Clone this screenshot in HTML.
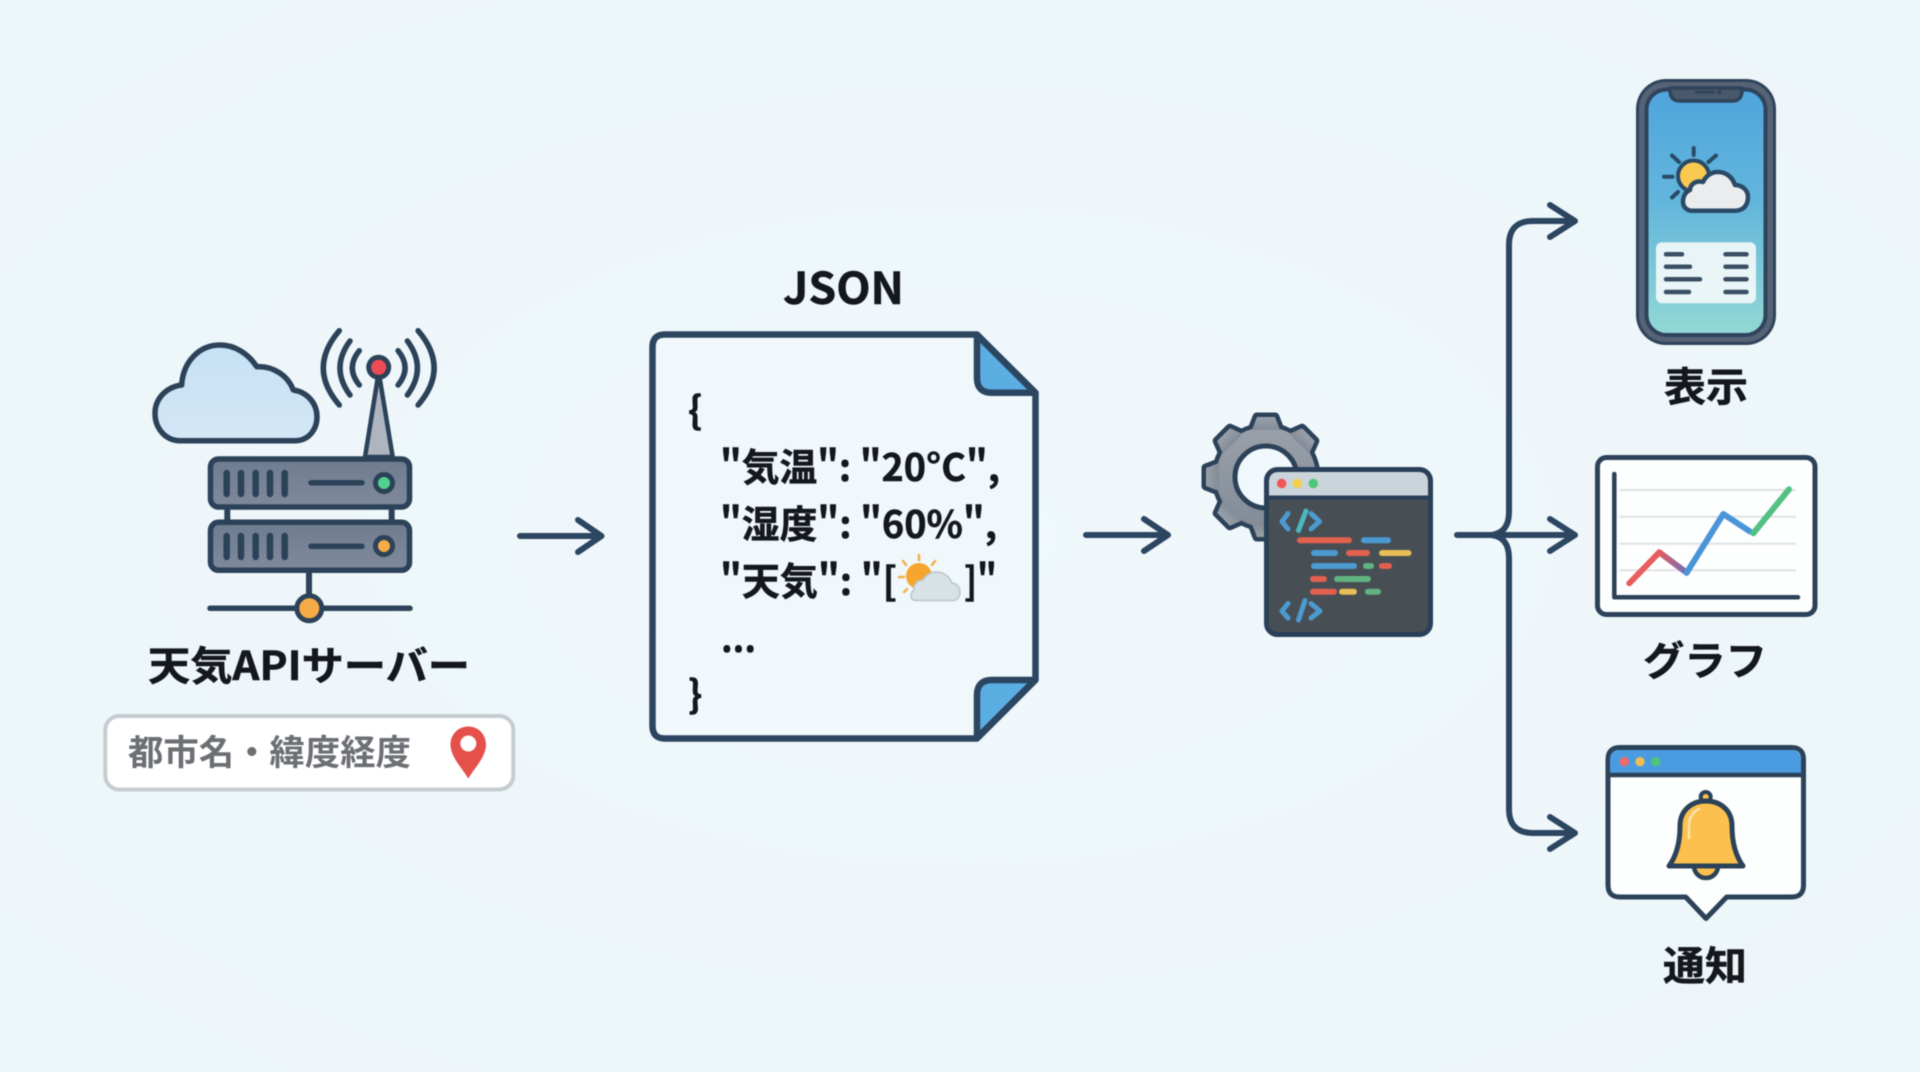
<!DOCTYPE html>
<html lang="ja">
<head>
<meta charset="utf-8">
<title>天気API</title>
<style>
html,body{margin:0;padding:0;width:1920px;height:1072px;overflow:hidden;background:#eff7fa}
svg{display:block;filter:blur(.5px)}
text{font-family:"Liberation Sans","Noto Sans CJK JP",sans-serif}
.n{font-family:"Noto Sans CJK JP","Liberation Sans",sans-serif;font-weight:700;fill:#14171b;stroke:#14171b;stroke-width:.5px}
.c{font-size:38px}
.l{stroke:#2c4561;stroke-width:6;fill:none;stroke-linecap:round;stroke-linejoin:round}
.d{stroke:#2c4259;stroke-width:4.5;stroke-linejoin:round;stroke-linecap:round}
</style>
</head>
<body>
<svg width="1920" height="1072" viewBox="0 0 1920 1072" xmlns="http://www.w3.org/2000/svg">
<defs>
<radialGradient id="bg" cx="50%" cy="50%" r="75%"><stop offset="0" stop-color="#f0f8fc"/><stop offset="1" stop-color="#ecf5f8"/></radialGradient>
<linearGradient id="cl" x1="0" y1="0" x2="0" y2="1"><stop offset="0" stop-color="#c6e1f5"/><stop offset="1" stop-color="#d3e7f6"/></linearGradient>
<linearGradient id="sv" x1="0" y1="0" x2="0" y2="1"><stop offset="0" stop-color="#6f7c90"/><stop offset="1" stop-color="#7f8a9c"/></linearGradient>
<linearGradient id="scr" x1="0" y1="0" x2="0" y2="1"><stop offset="0" stop-color="#4fa5dd"/><stop offset=".45" stop-color="#62b6dc"/><stop offset="1" stop-color="#92d8d5"/></linearGradient>
<linearGradient id="gr" x1="0" y1="0" x2="0" y2="1"><stop offset="0" stop-color="#9aa1aa"/><stop offset="1" stop-color="#838b97"/></linearGradient>
<linearGradient id="rb" x1="1659" y1="0" x2="1687" y2="0" gradientUnits="userSpaceOnUse"><stop offset="0" stop-color="#e25c5c"/><stop offset="1" stop-color="#6f70c0"/></linearGradient>
<g id="gs">
<circle cx="1266" cy="477" r="50"/>
<g id="th"><polygon points="1252,430 1257,417 1275,417 1280,430"/><polygon points="1252,430 1257,417 1275,417 1280,430" transform="rotate(45 1266 477)"/><polygon points="1252,430 1257,417 1275,417 1280,430" transform="rotate(135 1266 477)"/><polygon points="1252,430 1257,417 1275,417 1280,430" transform="rotate(180 1266 477)"/><polygon points="1252,430 1257,417 1275,417 1280,430" transform="rotate(225 1266 477)"/><polygon points="1252,430 1257,417 1275,417 1280,430" transform="rotate(270 1266 477)"/><polygon points="1252,430 1257,417 1275,417 1280,430" transform="rotate(315 1266 477)"/></g>
</g>
</defs>
<rect width="1920" height="1072" fill="url(#bg)"/>

<!-- cloud -->
<path d="M180 440.7H295C309 440.7 317 429 317 417C317 403 307 392 293.3 390C288 376 274 366 256.7 366.7C248 353 234 345 220 345C199 345 183 362 181.7 385C166 387 155 399 155 413.3C155 429 166 440.7 180 440.7Z" fill="url(#cl)" stroke="#2c4259" stroke-width="5.5" stroke-linejoin="round"/>
<!-- antenna -->
<path d="M378.7 372L365 457H392.7Z" fill="#aeb5bf" class="d" stroke-width="5"/>
<circle cx="378.7" cy="367.3" r="10" fill="#ef4b55" stroke="#2c4259" stroke-width="5"/>
<g fill="none" stroke="#2c4259" stroke-width="5.5" stroke-linecap="round">
<path d="M359.3 350.7Q345.3 368 359.3 385"/><path d="M350 341Q330 368 350 395"/><path d="M339.3 330.7Q307.3 368 339.3 405"/>
<path d="M398.1 350.7Q412.1 368 398.1 385"/><path d="M407.4 341Q427.4 368 407.4 395"/><path d="M418.1 330.7Q450.1 368 418.1 405"/>
</g>
<!-- server -->
<path d="M227.3 505V525M391.7 505V525" stroke="#2c4259" stroke-width="6"/>
<rect x="210.5" y="459" width="199" height="48" rx="8" fill="url(#sv)" stroke="#2c4259" stroke-width="5.5"/>
<rect x="210.5" y="522.3" width="199" height="48" rx="8" fill="url(#sv)" stroke="#2c4259" stroke-width="5.5"/>
<g stroke="#2c4259" stroke-width="6.5" stroke-linecap="round">
<path d="M226.7 473V494M241 473V494M255.7 473V494M270 473V494M284.7 473V494M226.7 536V557M241 536V557M255.7 536V557M270 536V557M284.7 536V557"/>
<path d="M311 482.7H362M311 546.3H362" stroke-width="5.5"/>
<path d="M309 572V597" stroke-width="6"/>
<path d="M210 608.3H410" stroke-width="5.5"/>
</g>
<circle cx="384" cy="483" r="8.5" fill="#50d08f" stroke="#2c4259" stroke-width="5"/>
<circle cx="384" cy="546" r="8.5" fill="#f7ab46" stroke="#2c4259" stroke-width="5"/>
<circle cx="309.3" cy="608.3" r="12.5" fill="#f7ab46" stroke="#2c4259" stroke-width="5"/>
<text class="n" x="148" y="680" font-size="40" textLength="322" lengthAdjust="spacingAndGlyphs">天気APIサーバー</text>
<!-- pill -->
<rect x="105.3" y="716" width="408" height="73.5" rx="14" fill="#ffffff" stroke="#c5cdd2" stroke-width="4"/>
<text x="128" y="765" font-size="35" font-weight="700" fill="#6c6f73" textLength="283" lengthAdjust="spacingAndGlyphs" style="font-family:'Noto Sans CJK JP',sans-serif">都市名・緯度経度</text>
<path d="M468.3 778.5C462 768 450.5 757 450.5 744.5C450.5 734 458.5 726.5 468.3 726.5C478 726.5 486 734 486 744.5C486 757 474.5 768 468.3 778.5Z" fill="#e5504b"/>
<circle cx="468.3" cy="743.5" r="8" fill="#fff"/>

<!-- arrows -->
<path class="l" d="M520 536H600M578 520L601.5 536L578 552"/>
<path class="l" d="M1086 535H1166M1144 519L1168 535L1144 551"/>

<!-- JSON doc -->
<text class="n" x="783" y="304" font-size="44" textLength="121" lengthAdjust="spacingAndGlyphs">JSON</text>
<path d="M665 334.5H977L1035.5 392.7V680L977 738.5H665Q652.5 738.5 652.5 726V347Q652.5 334.5 665 334.5Z" fill="#f0f8fc" stroke="#2c4561" stroke-width="6.5" stroke-linejoin="round"/>
<path d="M977 335V378Q977 392.7 992 392.7H1035Z" fill="#5aaee2" stroke="#2c4561" stroke-width="6.5" stroke-linejoin="round"/>
<path d="M1035 680H992Q977 680 977 695V738Z" fill="#5aaee2" stroke="#2c4561" stroke-width="6.5" stroke-linejoin="round"/>
<text class="n c" x="688" y="424">{</text>
<text class="n c" x="720" y="481" textLength="280" lengthAdjust="spacingAndGlyphs">"気温": "20°C",</text>
<text class="n c" x="720" y="538" textLength="277" lengthAdjust="spacingAndGlyphs">"湿度": "60%",</text>
<text class="n c" x="720" y="595" textLength="177" lengthAdjust="spacingAndGlyphs">"天気": "[</text>
<text class="n c" x="964" y="595" textLength="33" lengthAdjust="spacingAndGlyphs">]"</text>
<text class="n c" x="721" y="652" textLength="35" lengthAdjust="spacingAndGlyphs">...</text>
<text class="n c" x="688" y="708">}</text>
<!-- weather emoji -->
<g stroke="#f4b04a" stroke-width="2.5" stroke-linecap="round"><path d="M919 555V560M903 561L906 565M935 561L932 565M899 577H904M904 592L907 589"/></g>
<circle cx="919" cy="576" r="13" fill="#f6a62e"/>
<path d="M917 600.5H953C958 600.5 960 596 960 592C960 587 956 583 952 583C949 575 942 572 936 572C930 572 926 575 923 580C917 580 913 585 914 590C910 593 909 600.5 917 600.5Z" fill="#d8e1e5" stroke="#b9c6cc" stroke-width="1.5"/>

<!-- gear -->
<use href="#gs" fill="#2c4259" stroke="#2c4259" stroke-width="9" stroke-linejoin="round"/>
<use href="#gs" fill="url(#gr)" stroke="#8f969f" stroke-width="0"/>
<circle cx="1266" cy="477" r="31" fill="#f0f8fc" stroke="#2c4259" stroke-width="5"/>
<!-- window -->
<rect x="1266.5" y="469.5" width="164" height="165" rx="11" fill="#474f55" stroke="#2a4058" stroke-width="5"/>
<path d="M1269 496.7V482Q1269 472 1279 472H1418Q1428 472 1428 482V496.7Z" fill="#cbd3db"/>
<path d="M1268 497.5H1429" stroke="#2a4058" stroke-width="4"/>
<circle cx="1281.7" cy="483.5" r="4.7" fill="#f25555"/><circle cx="1297.3" cy="483.5" r="4.7" fill="#f4cf47"/><circle cx="1313.3" cy="483.5" r="4.7" fill="#4cc77a"/>
<g fill="none" stroke-linecap="round" stroke-linejoin="round" stroke-width="5">
<path d="M1288 513.5L1282 521.5L1288 529M1311 513.5L1319.5 521.5L1311 529" stroke="#4b9ad0"/>
<path d="M1306 511L1298.5 530.5" stroke="#4cb8bf"/>
<path d="M1288 603.5L1282 611L1288 618M1311 603.5L1320 611L1311 618M1305 600.5L1298.5 620" stroke="#4b9ad0"/>
</g>
<g stroke-width="6" stroke-linecap="round">
<path d="M1300 540.3H1349M1313 579H1324M1313 591.7H1334M1349 553H1367M1382 566H1389" stroke="#e2604e"/>
<path d="M1364 540.3H1388M1314 553H1335M1314 566H1354" stroke="#4b9ad0"/>
<path d="M1382 553H1408.5M1342 591.7H1354" stroke="#e8be56"/>
<path d="M1366 566H1371M1337 579H1368M1368 591.7H1378" stroke="#62b380"/>
</g>

<!-- bus -->
<path class="l" d="M1457 535H1574M1550 519L1575 535L1550 551"/>
<path class="l" d="M1491 535Q1509 533 1509 512V245Q1509 221 1533 221H1574M1550 205L1575 221L1550 237"/>
<path class="l" d="M1491 535Q1509 537 1509 558V809Q1509 833 1533 833H1574M1550 817L1575 833L1550 849"/>

<!-- phone -->
<rect x="1636" y="79" width="140" height="266" rx="30" fill="#2f445c"/>
<rect x="1639" y="82" width="134" height="260" rx="27" fill="#566375"/>
<rect x="1646.5" y="89.5" width="119" height="245.5" rx="20" fill="url(#scr)" stroke="#2f445c" stroke-width="4"/>
<path d="M1670 88H1742V90Q1742 101 1732 101H1680Q1670 101 1670 90Z" fill="#4a586b" stroke="#2f445c" stroke-width="3.5" stroke-linejoin="round"/>
<path d="M1696 92.3H1714" stroke="#2f445c" stroke-width="2.5" stroke-linecap="round"/><circle cx="1719.3" cy="92.3" r="2" fill="#2f445c"/>
<g stroke="#2a4a66" stroke-width="4" stroke-linecap="round"><path d="M1693.7 148V155M1672 155.5L1679 162M1664 176.7H1672.5M1708.5 162L1716 155.5M1672 197.5L1678 192"/></g>
<circle cx="1693.5" cy="176" r="15.5" fill="#f9c950" stroke="#2a4a66" stroke-width="4"/>
<path d="M1692 210.7H1735C1745 210.7 1748 203 1748 197C1748 190 1742 185 1735 185C1732 176 1725 172 1718 172C1711 172 1706 176 1703 182C1695 180 1690 185 1690 190C1685 192 1683 197 1683 202C1683 207 1687 210.7 1692 210.7Z" fill="#ebeced" stroke="#2a4a66" stroke-width="4.5" stroke-linejoin="round"/>
<rect x="1656" y="242.3" width="100" height="61" rx="6" fill="#f1f7f9" fill-opacity=".93"/>
<g stroke="#3a4f63" stroke-width="4.5" stroke-linecap="round"><path d="M1666 254.3H1682M1666 266.7H1690M1666 279.3H1700M1666 292H1689M1725.5 254.3H1746.5M1725.5 266.7H1746.5M1725.5 279.3H1746.5M1725.5 292H1746.5"/></g>
<text class="n" x="1664" y="401" font-size="40" textLength="84" lengthAdjust="spacingAndGlyphs">表示</text>

<!-- chart -->
<rect x="1597.5" y="457.5" width="217.5" height="157" rx="9" fill="#fdfefe" stroke="#2c4259" stroke-width="5"/>
<path d="M1619.3 490H1796M1619.3 516.7H1796M1619.3 543.7H1796M1619.3 570.3H1796" stroke="#dfe2e4" stroke-width="2"/>
<path d="M1614.3 474V597.3H1798" fill="none" stroke="#2c4259" stroke-width="4.5" stroke-linecap="round" stroke-linejoin="round"/>
<g fill="none" stroke-width="6" stroke-linecap="round" stroke-linejoin="round">
<path d="M1629.3 583.3L1659.3 552.3" stroke="#e85d5d"/>
<path d="M1659.3 552.3L1686.7 572.7" stroke="url(#rb)"/>
<path d="M1686.7 572.7L1723.3 514L1750 531.5" stroke="#4a94d8"/>
<path d="M1753.3 533.3L1789 489.3" stroke="#53c184"/>
</g>
<text class="n" x="1643" y="675" font-size="40" textLength="124" lengthAdjust="spacingAndGlyphs">グラフ</text>

<!-- notification -->
<path d="M1620 747.5H1791.5Q1803.5 747.5 1803.5 759.5V885Q1803.5 897 1791.5 897H1726.7L1706 918.5L1685.7 897H1620Q1608 897 1608 885V759.5Q1608 747.5 1620 747.5Z" fill="#fdfefe" stroke="#2c4259" stroke-width="5" stroke-linejoin="round"/>
<path d="M1610 774V760Q1610 750 1620 750H1791Q1801 750 1801 760V774Z" fill="#4a9be0"/>
<path d="M1608 775H1803.5" stroke="#2c4259" stroke-width="4.5"/>
<circle cx="1624.3" cy="761.7" r="4.7" fill="#f06a6a"/><circle cx="1640" cy="761.7" r="4.7" fill="#f0bd50"/><circle cx="1655.7" cy="761.7" r="4.7" fill="#4fc47a"/>
<circle cx="1705.7" cy="797" r="5" fill="#fbc04e" stroke="#2c4259" stroke-width="4"/>
<path d="M1694 866A12 12 0 0 0 1718 866Z" fill="#fbc04e" stroke="#2c4259" stroke-width="4.5" stroke-linejoin="round"/>
<path d="M1669 866H1743C1735 855 1732 840 1732 826C1732 810 1720 801 1706 801C1692 801 1680 810 1680 826C1680 840 1677 855 1669 866Z" fill="#fbc04e" stroke="#2c4259" stroke-width="5" stroke-linejoin="round"/>
<path d="M1689 838V826C1689 817 1693 812 1699 809" fill="none" stroke="#fde3a8" stroke-width="2.5" stroke-linecap="round"/>
<text class="n" x="1663" y="980" font-size="40" textLength="84" lengthAdjust="spacingAndGlyphs">通知</text>
</svg>
</body>
</html>
